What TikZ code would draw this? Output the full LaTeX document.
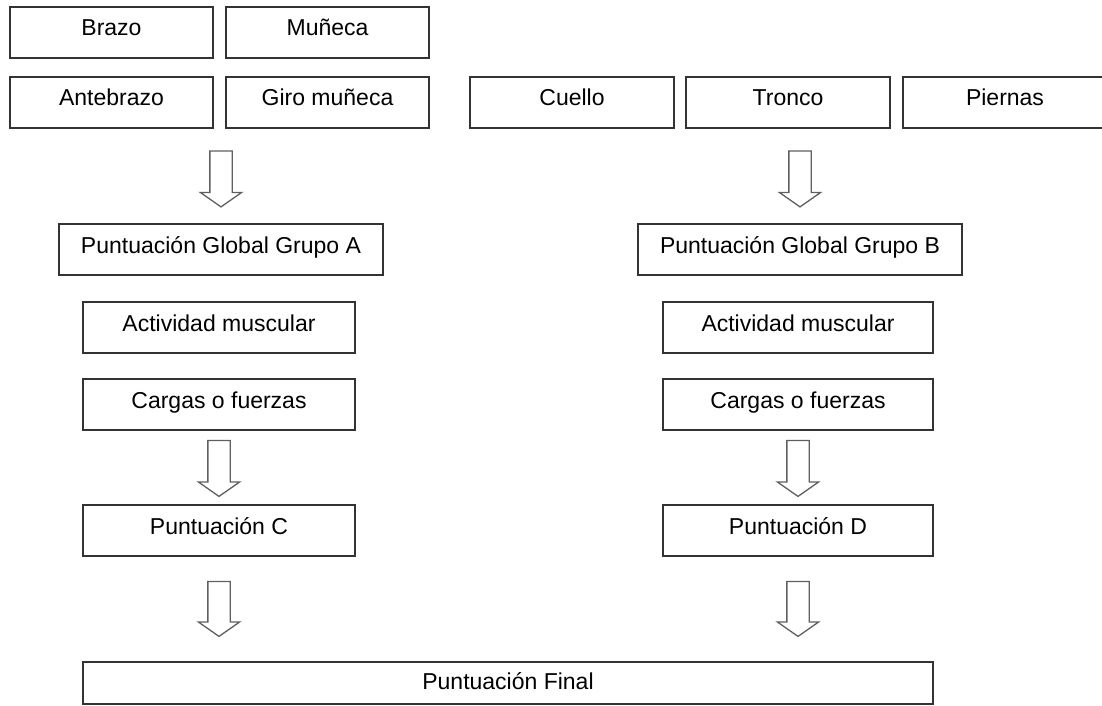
\documentclass[tikz,border=0pt]{standalone}
\usepackage{fontspec}
\setmainfont{Liberation Sans}
\usepackage{tikz}
\usetikzlibrary{shapes.arrows,positioning,calc}
\definecolor{rahmen}{RGB}{51,51,51}
\definecolor{pfeilgrau}{RGB}{95,95,95}
\tikzset{
  caja/.style={rectangle, draw=rahmen, line width=1.6pt, minimum height=51pt, text height=29pt, text depth=22pt, inner xsep=2pt, inner ysep=0pt, outer sep=0pt, font=\fontsize{23}{27}\selectfont},
  cajabaja/.style={caja, minimum height=42pt, text height=27pt, text depth=15pt},
  flecha/.style={single arrow, draw=pfeilgrau, line width=1.3pt, shape border rotate=270, minimum height=56pt, minimum width=40pt, single arrow head extend=9.5pt, single arrow tip angle=110, inner sep=10.5pt, yshift=3pt}
}

\begin{document}
\begin{tikzpicture}[x=1pt, y=-1pt, node distance=13pt]
\useasboundingbox (0,0) rectangle (1102,706);
\clip (0,0) rectangle (1102,706);

% grupo A
\node[caja, minimum width=203pt, anchor=north west] (brazo) at (10,7) {Brazo};
\node[caja, minimum width=203pt, right=of brazo] (muneca) {Muñeca};
\node[caja, minimum width=203pt, anchor=north west] (antebrazo) at (10,77) {Antebrazo};
\node[caja, minimum width=203pt, right=of antebrazo] (giro) {Giro muñeca};

% grupo B
\node[caja, minimum width=204pt, anchor=north west] (cuello) at (470,77) {Cuello};
\node[caja, minimum width=204pt, right=12pt of cuello] (tronco) {Tronco};
\node[caja, minimum width=204pt, right=of tronco] (piernas) {Piernas};

% lado A
\node[caja, minimum width=324pt, anchor=north west] (globalA) at (59,224) {Puntuación Global Grupo A};
\node[flecha] (fa1) at ($(globalA.north)+(0,-46)$) {};
\node[caja, minimum width=272pt, anchor=north west] (actA) at (83,302) {Actividad muscular};
\node[caja, minimum width=272pt, below=26pt of actA] (cargasA) {Cargas o fuerzas};
\node[caja, minimum width=272pt, anchor=north west] (puntC) at (83,505) {Puntuación C};
\node[flecha] (fa2) at ($(cargasA.south)!0.5!(puntC.north)$) {};
\node[flecha, minimum height=55pt] (fa3) at ($(puntC.south)+(0,52)$) {};

% lado B
\node[caja, minimum width=324pt, anchor=north west] (globalB) at (638,224) {Puntuación Global Grupo B};
\node[flecha] (fb1) at ($(globalB.north)+(0,-46)$) {};
\node[caja, minimum width=270pt, anchor=north west] (actB) at (663,302) {Actividad muscular};
\node[caja, minimum width=270pt, below=26pt of actB] (cargasB) {Cargas o fuerzas};
\node[caja, minimum width=270pt, anchor=north west] (puntD) at (663,505) {Puntuación D};
\node[flecha] (fb2) at ($(cargasB.south)!0.5!(puntD.north)$) {};
\node[flecha, minimum height=55pt] (fb3) at ($(puntD.south)+(0,52)$) {};

% final
\node[cajabaja, minimum width=850pt, anchor=north west] (final) at (83,662) {Puntuación Final};

\end{tikzpicture}
\end{document}
